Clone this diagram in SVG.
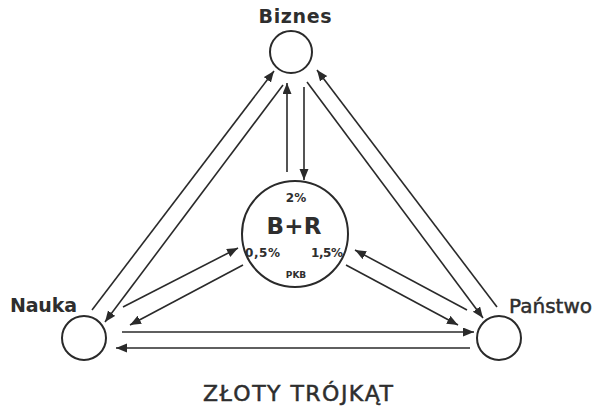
<svg xmlns="http://www.w3.org/2000/svg" width="603" height="406" viewBox="0 0 603 406">
<style>
.node{fill:none;stroke:#2a2a2a;stroke-width:2}
.lbl{font-family:"DejaVu Sans",Verdana,sans-serif;fill:#2e2e2e}
.b{font-weight:bold}
.med{stroke:#2e2e2e;stroke-width:0.5}
.c line{stroke:#2a2a2a;stroke-width:1.6}
</style>
<defs>
<marker id="ah" markerUnits="userSpaceOnUse" markerWidth="12" markerHeight="10" refX="11" refY="4.5" orient="auto">
<path d="M0,0 L11,4.5 L0,9 z" fill="#2a2a2a"/>
</marker>
</defs>
<rect width="603" height="406" fill="#fff"/>
<g id="connectors" class="c">
<line x1="92" y1="310" x2="274" y2="71" marker-end="url(#ah)"/>
<line x1="283" y1="85" x2="105" y2="322" marker-end="url(#ah)"/>
<line x1="287" y1="172" x2="287" y2="83" marker-end="url(#ah)"/>
<line x1="304" y1="87" x2="304" y2="180" marker-end="url(#ah)"/>
<line x1="497" y1="307" x2="317" y2="70" marker-end="url(#ah)"/>
<line x1="307" y1="82" x2="483" y2="318" marker-end="url(#ah)"/>
<line x1="467" y1="310" x2="355" y2="250" marker-end="url(#ah)"/>
<line x1="346" y1="265" x2="458" y2="325" marker-end="url(#ah)"/>
<line x1="123" y1="307" x2="238" y2="248" marker-end="url(#ah)"/>
<line x1="243" y1="265" x2="130" y2="325" marker-end="url(#ah)"/>
<line x1="122" y1="332" x2="474" y2="332" marker-end="url(#ah)"/>
<line x1="470" y1="348" x2="116" y2="348" marker-end="url(#ah)"/>
</g>
<g id="biznes">
<circle class="node" cx="291" cy="52" r="21"/>
<text class="lbl b" x="295" y="23" font-size="19" text-anchor="middle" textLength="73">Biznes</text>
</g>
<g id="nauka">
<circle class="node" cx="84" cy="338" r="22"/>
<text class="lbl b" x="43.5" y="312" font-size="19" text-anchor="middle" textLength="67">Nauka</text>
</g>
<g id="panstwo">
<circle class="node" cx="499" cy="338" r="22"/>
<text class="lbl med" x="550.5" y="313" font-size="20" text-anchor="middle" textLength="83">Państwo</text>
</g>
<g id="br">
<circle class="node" cx="295" cy="234" r="53"/>
<text class="lbl b" x="296" y="202" font-size="12" text-anchor="middle">2%</text>
<text class="lbl b" x="294" y="234" font-size="23" text-anchor="middle" textLength="55">B+R</text>
<text class="lbl b" x="262.5" y="257" font-size="12" text-anchor="middle" textLength="35">0,5%</text>
<text class="lbl b" x="327" y="257" font-size="12" text-anchor="middle" textLength="32">1,5%</text>
<text class="lbl b" x="296" y="278" font-size="9" text-anchor="middle">PKB</text>
</g>
<g id="title">
<text class="lbl med" x="298" y="401" font-size="22" text-anchor="middle" textLength="190">ZŁOTY TRÓJKĄT</text>
</g>
</svg>
